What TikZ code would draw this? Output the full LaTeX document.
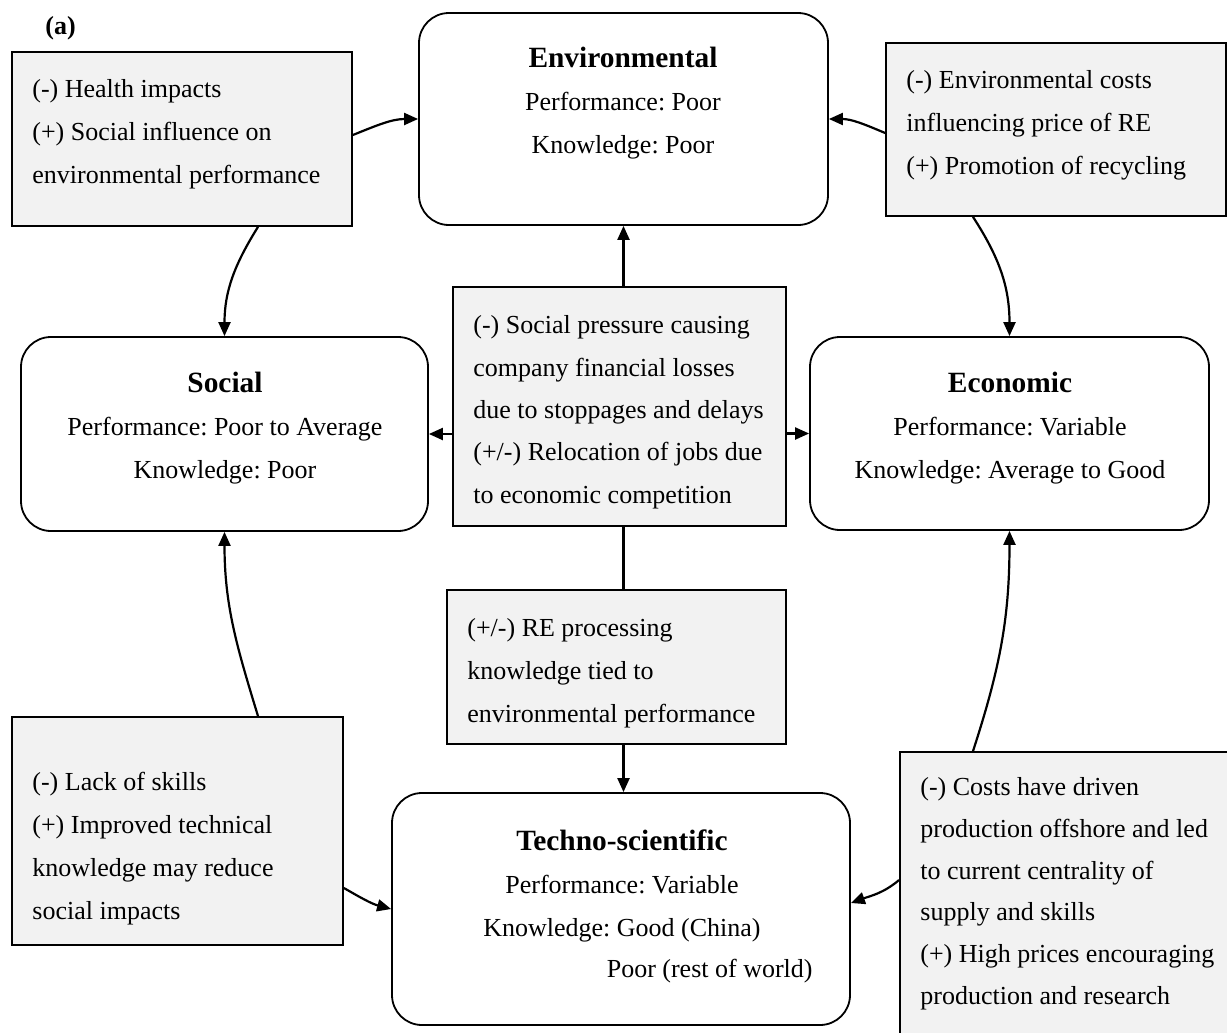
\documentclass[tikz,border=0pt]{standalone}
\usepackage{fontspec}
\setmainfont{Liberation Serif}
\usetikzlibrary{arrows.meta,calc}
\frenchspacing
\begin{document}
\frenchspacing
\begin{tikzpicture}[x=0.5pt,y=-0.5pt,
  graybox/.style={draw=black,line width=0.9pt,fill=boxgray,rectangle,inner sep=0pt},
  roundbox/.style={draw=black,line width=0.9pt,fill=white,rectangle,rounded corners=15pt,inner sep=0pt},
  leftbody/.style={anchor=north west,inner sep=0pt,align=left,font=\fontsize{13}{21.5}\selectfont},
  centerbody/.style={anchor=north,inner sep=0pt,align=center,font=\fontsize{13}{21.5}\selectfont},
  conn/.style={line width=1.1pt,-{Triangle[length=7pt,width=6pt]}},
  plainconn/.style={line width=1.1pt}]
\definecolor{boxgray}{HTML}{F2F2F2}
\useasboundingbox (0,0) rectangle (1227,1033);
\clip (0,0) rectangle (1227,1033);
\newcommand{\ttl}[1]{{\fontsize{14.7}{21.5}\selectfont\bfseries #1}}

% boxes
\node[graybox,minimum width=170pt,minimum height=87pt] (hl) at (182,139) {};
\node[roundbox,minimum width=204.5pt,minimum height=106pt] (env) at (623.5,119) {};
\node[graybox,minimum width=170pt,minimum height=86.5pt] (ec) at (1056,129.5) {};
\node[graybox,minimum width=166.5pt,minimum height=119.5pt] (cen) at (619.5,406.5) {};
\node[roundbox,minimum width=203.5pt,minimum height=97pt] (soc) at (224.5,434) {};
\node[roundbox,minimum width=199.5pt,minimum height=96.5pt] (eco) at (1009.5,433.5) {};
\node[graybox,minimum width=169.5pt,minimum height=77pt] (mid) at (616.5,667) {};
\node[roundbox,minimum width=229pt,minimum height=116pt] (tech) at (621,909) {};
\node[graybox,minimum width=165.5pt,minimum height=114pt] (bl) at (177.5,831) {};
\node[graybox,minimum width=170pt,minimum height=146.5pt] (br) at (1070,898.5) {};

% label
\node[anchor=base west,inner sep=0pt,font=\fontsize{13}{15}\selectfont\bfseries] (lab) at (45,34) {(a)};

% texts
\node[leftbody] (hlt) at (32,66.9) {\strut(-) Health impacts\\(+) Social influence on\\environmental performance};
\node[leftbody] (ect) at (906,57.9) {\strut(-) Environmental costs\\influencing price of RE\\(+) Promotion of recycling};
\node[leftbody,font=\fontsize{13}{21.15}\selectfont] (cent) at (473,303.9) {\strut(-) Social pressure causing\\company financial losses\\due to stoppages and delays\\(+/-) Relocation of jobs due\\to economic competition};
\node[leftbody] (midt) at (467,605.9) {\strut(+/-) RE processing\\knowledge tied to\\environmental performance};
\node[leftbody] (blt) at (32,759.9) {\strut(-) Lack of skills\\(+) Improved technical\\knowledge may reduce\\social impacts};
\node[leftbody,font=\fontsize{13}{20.9}\selectfont] (brt) at (920,765.9) {\strut(-) Costs have driven\\production offshore and led\\to current centrality of\\supply and skills\\(+) High prices encouraging\\production and research};

\node[centerbody] (envt) at (623,36.9) {\strut\ttl{Environmental}\\Performance: Poor\\Knowledge: Poor};
\node[centerbody] (soct) at (225,361.9) {\strut\ttl{Social}\\Performance: Poor to Average\\Knowledge: Poor};
\node[centerbody] (ecot) at (1010,361.9) {\strut\ttl{Economic}\\Performance: Variable\\Knowledge: Average to Good};
\node[centerbody] (techt) at (622,819.9) {\strut\ttl{Techno-scientific}\\Performance: Variable\\Knowledge: Good (China)};
\node[anchor=base east,inner sep=0pt,font=\fontsize{13}{21.5}\selectfont] (techt2) at (813,977) {Poor (rest of world)};

% connectors
\draw[conn] ([yshift=2pt]hl.east) to[out=22,in=180] (env.west);
\draw[conn] ([xshift=38pt]hl.south) to[out=-122,in=90] (soc.north);
\draw[conn] ([yshift=-1.75pt]ec.west) to[out=157,in=0] (env.east);
\draw[conn] ([xshift=-41.5pt]ec.south) to[out=-57,in=90] (eco.north);
\draw[conn] (cen.north -| env.south) -- (env.south);
\draw[conn] (cen.west |- soc.east) -- (soc.east);
\draw[conn] (cen.east |- eco.west) -- (eco.west);
\draw[plainconn] (cen.south -| env.south) -- (mid.north -| env.south);
\draw[conn] (mid.south -| env.south) -- (tech.north -| env.south);
\draw[conn] ([xshift=40.25pt]bl.north) to[out=107,in=-90] (soc.south);
\draw[conn] ([yshift=-28.5pt]bl.east) to[out=-30,in=165] (tech.west);
\draw[conn] ([xshift=-48.5pt]br.north) to[out=72,in=-90] (eco.south);
\draw[conn] ([yshift=9.25pt]br.west) to[out=-140,in=20] ([yshift=3pt]tech.east);
\end{tikzpicture}
\end{document}
